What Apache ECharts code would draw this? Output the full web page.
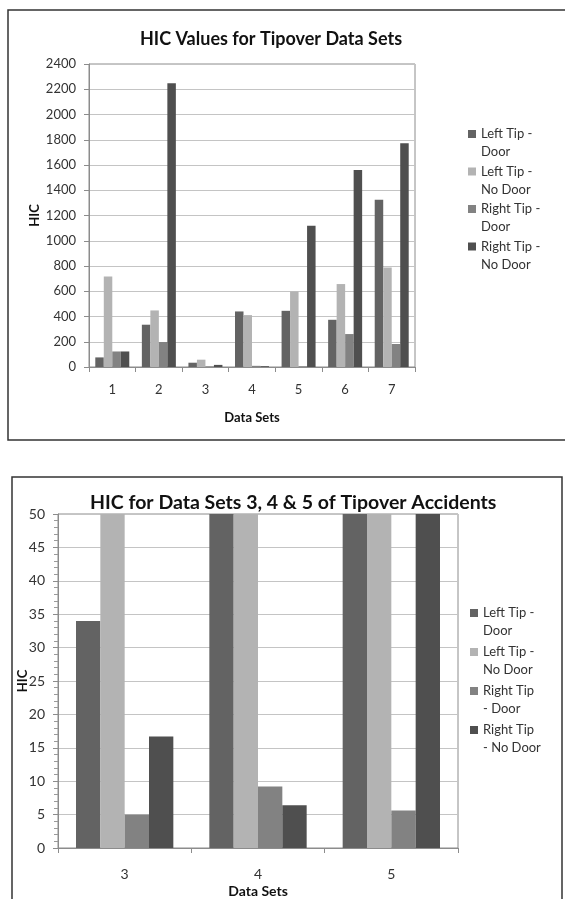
<!DOCTYPE html>
<html>
<head>
<meta charset="utf-8">
<script src="https://cdn.jsdelivr.net/npm/echarts@6/dist/echarts.min.js"></script>
<style>
html, body { margin: 0; padding: 0; background: #fff; }
#chart { width: 565px; height: 899px; }
</style>
</head>
<body>
<div id="chart"></div>
<script>
// data
var dataSets = ['1', '2', '3', '4', '5', '6', '7'];
var leftTipDoor = [76, 335, 34, 440, 445, 374, 1324];
var leftTipNoDoor = [717, 448, 58, 411, 598, 657, 788];
var rightTipDoor = [123, 198, 5, 9.2, 5.6, 261, 182];
var rightTipNoDoor = [123, 2247, 16.7, 6.4, 1118, 1561, 1772];
var yTicksTop = [0, 2400, 200];     // min, max, interval
var yTicksBottom = [0, 50, 5];

// second chart zooms on data sets 3, 4 and 5
var zoomSets = ['3', '4', '5'];
var zoomIdx = [2, 3, 4];

var colors = ['#636363', '#b3b3b3', '#828282', '#4f4f4f'];
var namesTop = ['Left Tip -\nDoor', 'Left Tip -\nNo Door', 'Right Tip -\nDoor', 'Right Tip -\nNo Door'];
var namesBottom = ['Left Tip -\nDoor', 'Left Tip -\nNo Door', 'Right Tip\n- Door', 'Right Tip\n- No Door'];
var allValues = [leftTipDoor, leftTipNoDoor, rightTipDoor, rightTipNoDoor];

var FONT = 'Lato';
// square marker sitting next to the first line of a two-line legend label
var legendIcon = 'path://M0,0M0,5h8v8h-8zM0,36';

function pick(arr, idx) {
    return idx.map(function (i) { return arr[i]; });
}

function plain(v) {
    return String(v); // no thousands separator
}

var series = [];
for (var k = 0; k < allValues.length; k++) {
    series.push({
        name: namesTop[k],
        type: 'bar',
        xAxisIndex: 0,
        yAxisIndex: 0,
        data: allValues[k],
        barGap: '0%',
        barCategoryGap: '27%',
        itemStyle: { color: colors[k] }
    });
    series.push({
        name: namesBottom[k],
        type: 'bar',
        xAxisIndex: 1,
        yAxisIndex: 1,
        data: pick(allValues[k], zoomIdx),
        barGap: '0%',
        barCategoryGap: '27%',
        clip: true,
        itemStyle: { color: colors[k] }
    });
}

var axisLineStyle = { color: '#8c8c8c', width: 1 };
var legendText = { fontFamily: FONT, fontSize: 13, lineHeight: 18, color: '#333' };

var option = {
    animation: false,
    backgroundColor: '#fff',
    color: colors,
    title: [
        {
            text: 'HIC Values for Tipover Data Sets',
            left: 135, top: 25,
            textStyle: { fontFamily: FONT, fontSize: 18, fontWeight: 'bold', color: '#111' }
        },
        {
            text: 'HIC for Data Sets 3, 4 & 5 of Tipover Accidents',
            left: 85, top: 488,
            textStyle: { fontFamily: FONT, fontSize: 19.5, fontWeight: 'bold', color: '#111' }
        }
    ],
    legend: [
        {
            data: namesTop,
            orient: 'vertical',
            left: 468, top: 125, padding: 0,
            itemWidth: 8, itemHeight: 36, itemGap: 1.5,
            icon: legendIcon,
            textStyle: legendText
        },
        {
            data: namesBottom,
            orient: 'vertical',
            left: 470, top: 604, padding: 0,
            itemWidth: 8, itemHeight: 36, itemGap: 3,
            icon: legendIcon,
            textStyle: legendText
        }
    ],
    grid: [
        { left: 89, top: 64, width: 326, height: 303, show: true, borderColor: '#8c8c8c', borderWidth: 1 },
        { left: 58, top: 514, width: 400, height: 338, show: true, borderColor: '#8c8c8c', borderWidth: 1 }
    ],
    xAxis: [
        {
            gridIndex: 0,
            type: 'category',
            data: dataSets,
            name: 'Data Sets',
            nameLocation: 'middle',
            nameGap: 44,
            nameMoveOverlap: false,
            nameTextStyle: { fontFamily: FONT, fontSize: 13, fontWeight: 'bold', color: '#111' },
            axisLine: { lineStyle: axisLineStyle },
            axisTick: { show: true, length: 5, lineStyle: axisLineStyle },
            axisLabel: { margin: 16, fontFamily: FONT, fontSize: 13, color: '#333' }
        },
        {
            gridIndex: 1,
            type: 'category',
            data: zoomSets,
            name: 'Data Sets',
            nameLocation: 'middle',
            nameGap: 36,
            nameMoveOverlap: false,
            nameTextStyle: { fontFamily: FONT, fontSize: 14, fontWeight: 'bold', color: '#111' },
            axisLine: { lineStyle: axisLineStyle },
            axisTick: { show: true, length: 5, lineStyle: axisLineStyle },
            axisLabel: { margin: 19, fontFamily: FONT, fontSize: 14, color: '#333' }
        }
    ],
    yAxis: [
        {
            gridIndex: 0,
            type: 'value',
            min: yTicksTop[0], max: yTicksTop[1], interval: yTicksTop[2],
            name: 'HIC',
            nameLocation: 'middle',
            nameGap: 48,
            nameMoveOverlap: false,
            nameTextStyle: { fontFamily: FONT, fontSize: 13, fontWeight: 'bold', color: '#111' },
            axisLine: { show: true, lineStyle: axisLineStyle },
            axisTick: { show: true, length: 5, lineStyle: axisLineStyle },
            axisLabel: { margin: 13, fontFamily: FONT, fontSize: 13, color: '#333', formatter: plain },
            splitLine: { lineStyle: { color: '#c4c4c4', width: 1 } }
        },
        {
            gridIndex: 1,
            type: 'value',
            min: yTicksBottom[0], max: yTicksBottom[1], interval: yTicksBottom[2],
            name: 'HIC',
            nameLocation: 'middle',
            nameGap: 29,
            nameMoveOverlap: false,
            nameTextStyle: { fontFamily: FONT, fontSize: 13, fontWeight: 'bold', color: '#111' },
            axisLine: { show: true, lineStyle: axisLineStyle },
            axisTick: { show: true, length: 5, lineStyle: axisLineStyle },
            minorTick: { show: true, splitNumber: 5, length: 4, lineStyle: { color: '#9a9a9a' } },
            axisLabel: { margin: 13, fontFamily: FONT, fontSize: 14, color: '#333', formatter: plain },
            splitLine: { lineStyle: { color: '#c4c4c4', width: 1 } }
        }
    ],
    graphic: [
        // chart frames
        { type: 'rect', shape: { x: 8, y: 10, width: 570, height: 430 }, style: { fill: null, stroke: '#333', lineWidth: 1.5 }, silent: true },
        { type: 'rect', shape: { x: 12, y: 477, width: 550, height: 440 }, style: { fill: null, stroke: '#333', lineWidth: 1.5 }, silent: true }
    ],
    series: series
};

var myChart = echarts.init(document.getElementById('chart'), null, { renderer: 'canvas' });
myChart.setOption(option);
window.addEventListener('resize', myChart.resize);
</script>
</body>
</html>
